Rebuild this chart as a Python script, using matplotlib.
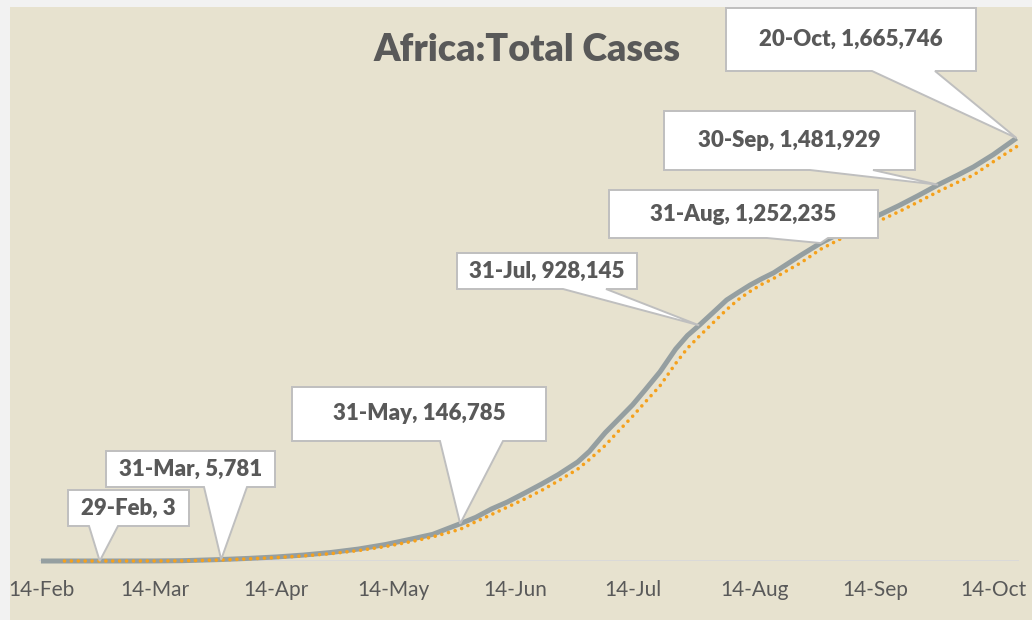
import pandas as pd
import matplotlib.pyplot as plt
import matplotlib.dates as mdates
from matplotlib.patches import Polygon, Rectangle

# cumulative confirmed cases, Africa 2020
case_dates = ["2020-02-14", "2020-02-29", "2020-03-07", "2020-03-14", "2020-03-21",
              "2020-03-31", "2020-04-07", "2020-04-14", "2020-04-21", "2020-04-28",
              "2020-05-05", "2020-05-12", "2020-05-19", "2020-05-24", "2020-05-31",
              "2020-06-04", "2020-06-08", "2020-06-12", "2020-06-17", "2020-06-21",
              "2020-06-25", "2020-06-30", "2020-07-03", "2020-07-07", "2020-07-10",
              "2020-07-14", "2020-07-17", "2020-07-21", "2020-07-25", "2020-07-28",
              "2020-07-31", "2020-08-04", "2020-08-07", "2020-08-10", "2020-08-13",
              "2020-08-16", "2020-08-19", "2020-08-22", "2020-08-26", "2020-08-31",
              "2020-09-05", "2020-09-10", "2020-09-15", "2020-09-20", "2020-09-25",
              "2020-09-30", "2020-10-05", "2020-10-09", "2020-10-14", "2020-10-20"]
total_cases = [1, 3, 40, 230, 1150,
               5781, 10300, 15800, 23400, 33500,
               47000, 65000, 88000, 105000, 146785,
               172000, 205000, 232000, 272000, 305000,
               340000, 390000, 432000, 505000, 552000,
               615000, 670000, 745000, 835000, 888000,
               928145, 985000, 1028000, 1058000, 1087000,
               1112000, 1135000, 1165000, 1205000, 1252235,
               1292000, 1328000, 1363000, 1400000, 1440000,
               1481929, 1520000, 1552000, 1600000, 1665746]

# 7-day moving average trendline (orange dotted)
ma_dates = ["2020-02-20"] + case_dates[1:]
ma_cases = [1, 2, 15, 110, 600,
            3900, 8300, 13500, 20000, 29000,
            41000, 57000, 78000, 95000, 125000,
            155000, 183000, 212000, 248000, 280000,
            315000, 362000, 400000, 455000, 505000,
            570000, 622000, 690000, 778000, 838000,
            885000, 945000, 990000, 1030000, 1062000,
            1090000, 1113000, 1140000, 1175000, 1228000,
            1268000, 1305000, 1340000, 1376000, 1415000,
            1455000, 1492000, 1520000, 1572000, 1632000]

tick_dates = ["2020-02-14", "2020-03-14", "2020-04-14", "2020-05-14", "2020-06-14",
              "2020-07-14", "2020-08-14", "2020-09-14", "2020-10-14"]

callout_dates = ["2020-02-29", "2020-03-31", "2020-05-31", "2020-07-31",
                 "2020-08-31", "2020-09-30", "2020-10-20"]

# callout boxes in image pixels: left, top, right, bottom, pointer base x1, x2
callout_boxes = [(68, 490, 189, 526, 89, 118),
                 (106, 451, 275, 487, 204, 247),
                 (292, 387, 546, 441, 440, 503),
                 (457, 253, 637, 289, 563, 606),
                 (609, 190, 878, 238, 767, 828),
                 (664, 111, 915, 170, 810, 873),
                 (726, 8, 976, 71, 872, 935)]

W, H = 1032, 620
text_col = "#595959"
plt.rcParams["font.family"] = ["Lato", "DejaVu Sans"]

fig = plt.figure(figsize=(W / 100, H / 100), dpi=100, facecolor="#f2f2f2")
fig.patches.append(Rectangle((10 / W, 0), 1, (H - 7) / H, transform=fig.transFigure,
                             facecolor="#e7e2cf", edgecolor="none", zorder=-10))

ax = fig.add_axes([39 / W, 59 / H, (1018.5 - 39) / W, 457 / H])
ax.set_facecolor("none")

x = pd.to_datetime(case_dates)
xm = pd.to_datetime(ma_dates)
ax.plot(x, total_cases, color="#959fa1", lw=3.6, solid_capstyle="butt",
        solid_joinstyle="round", clip_on=False, zorder=3)
ax.plot(xm, ma_cases, color="#f5a11c", lw=2.6, dashes=(0.01, 1.9),
        dash_capstyle="round", clip_on=False, zorder=4)

ax.axhline(0, color="#d9d9d9", lw=1.3, zorder=1)
ax.set_xlim(pd.Timestamp("2020-02-14") - pd.Timedelta(hours=12),
            pd.Timestamp("2020-10-20") + pd.Timedelta(hours=12))
ax.set_ylim(0, 1800000)

ticks = pd.to_datetime(tick_dates)
ax.set_xticks(ticks)
ax.set_xticklabels([f"{d.day}-{d.strftime('%b')}" for d in ticks])
ax.tick_params(axis="x", length=0, pad=14, labelsize=15, labelcolor=text_col)
ax.set_yticks([])
for s in ax.spines.values():
    s.set_visible(False)

fig.text(527 / W, 1 - 50 / H, "Africa:Total Cases", ha="center", va="center",
         fontsize=27, fontweight="heavy", color=text_col)

# callouts: white box with a wedge pointing at the data point
lookup = dict(zip(pd.to_datetime(case_dates), total_cases))
to_fig = fig.transFigure.inverted()
for d, (l, t, r, b, b1, b2) in zip(pd.to_datetime(callout_dates), callout_boxes):
    v = lookup[d]
    tip = to_fig.transform(ax.transData.transform((mdates.date2num(d), v)))
    f = lambda px, py: (px / W, 1 - py / H)
    pts = [f(l, t), f(r, t), f(r, b), f(b2, b), tuple(tip), f(b1, b), f(l, b)]
    fig.patches.append(Polygon(pts, closed=True, transform=fig.transFigure,
                               facecolor="white", edgecolor="#bfbfbf", lw=1.4,
                               joinstyle="miter", zorder=5))
    fig.text((l + r) / 2 / W, 1 - (t + b) / 2 / H,
             f"{d.day}-{d.strftime('%b')}, {v:,}", ha="center", va="center",
             fontsize=16, fontweight="heavy", color=text_col, zorder=6)

fig.savefig("out.png", dpi=100, facecolor=fig.get_facecolor())
